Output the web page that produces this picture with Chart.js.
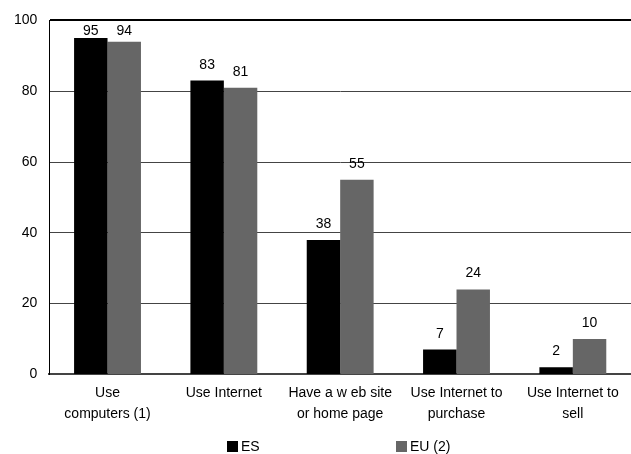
<!DOCTYPE html>
<html>
<head>
<meta charset="utf-8">
<script src="https://cdn.jsdelivr.net/npm/chart.js@4/dist/chart.umd.min.js"></script>
<style>
  html, body { margin: 0; padding: 0; background: #fff; }
  #wrap { width: 631px; height: 454px; }
</style>
</head>
<body>
<div id="wrap"><canvas id="graph" width="631" height="454"></canvas></div>
<script>
var categories = [
  ["Use", "computers (1)"],
  "Use Internet",
  ["Have a w eb site", "or home page"],
  ["Use Internet to", "purchase"],
  ["Use Internet to", "sell"]
];
var esValues = [95, 83, 38, 7, 2];
var euValues = [94, 81, 55, 24, 10];
var yTicks = [0, 20, 40, 60, 80, 100];

var FONT = "'Liberation Sans', Arial, sans-serif";

// value labels above each bar
var valueLabels = {
  id: "valueLabels",
  afterDatasetsDraw: function(chart) {
    var ctx = chart.ctx;
    var top = chart.chartArea.top;
    ctx.save();
    ctx.font = "14px " + FONT;
    ctx.fillStyle = "#000";
    ctx.textAlign = "center";
    ctx.textBaseline = "alphabetic";
    chart.data.datasets.forEach(function(ds, i) {
      chart.getDatasetMeta(i).data.forEach(function(bar, j) {
        var y = Math.max(bar.y - 12, top + 15);
        ctx.fillText(String(ds.data[j]), bar.x, y);
      });
    });
    ctx.restore();
  }
};

// legend below the axis labels
var bottomLegend = {
  id: "bottomLegend",
  afterDraw: function(chart) {
    var ctx = chart.ctx;
    var xs = [227, 396];
    var y = 441;
    ctx.save();
    ctx.font = "14px " + FONT;
    ctx.textBaseline = "middle";
    ctx.textAlign = "left";
    chart.data.datasets.forEach(function(ds, i) {
      ctx.fillStyle = ds.backgroundColor;
      ctx.fillRect(xs[i], y, 11, 11);
      ctx.fillStyle = "#000";
      ctx.fillText(ds.label, xs[i] + 14, y + 6);
    });
    ctx.restore();
  }
};

var ctx = document.getElementById("graph").getContext("2d");
var chart = new Chart(ctx, {
  type: "bar",
  data: {
    labels: categories,
    datasets: [{
      label: "ES",
      data: esValues,
      backgroundColor: "#000000",
      categoryPercentage: 0.575,
      barPercentage: 1.0
    }, {
      label: "EU (2)",
      data: euValues,
      backgroundColor: "#666666",
      categoryPercentage: 0.575,
      barPercentage: 1.0
    }]
  },
  options: {
    responsive: false,
    animation: false,
    layout: { padding: { left: 2, right: 0, top: 8, bottom: 21 } },
    plugins: {
      legend: { display: false },
      tooltip: { enabled: false }
    },
    scales: {
      x: {
        grid: { display: false, drawTicks: false },
        border: { display: true, color: "#444", width: 2 },
        ticks: {
          color: "#000",
          font: { family: FONT, size: 14, lineHeight: 1.45 },
          padding: 9,
          maxRotation: 0,
          autoSkip: false
        }
      },
      y: {
        min: 0,
        max: 100,
        afterBuildTicks: function(scale) {
          scale.ticks = yTicks.map(function(v) { return { value: v }; });
        },
        grid: {
          drawTicks: false,
          color: function(c) { return c.tick && c.tick.value === 100 ? "#000" : "#444"; },
          lineWidth: function(c) { return c.tick && c.tick.value === 100 ? 2 : 1; }
        },
        border: { display: true, color: "#000", width: 1 },
        ticks: {
          color: "#000",
          font: { family: FONT, size: 14 },
          padding: 12
        }
      }
    }
  },
  plugins: [valueLabels, bottomLegend]
});
</script>
</body>
</html>
